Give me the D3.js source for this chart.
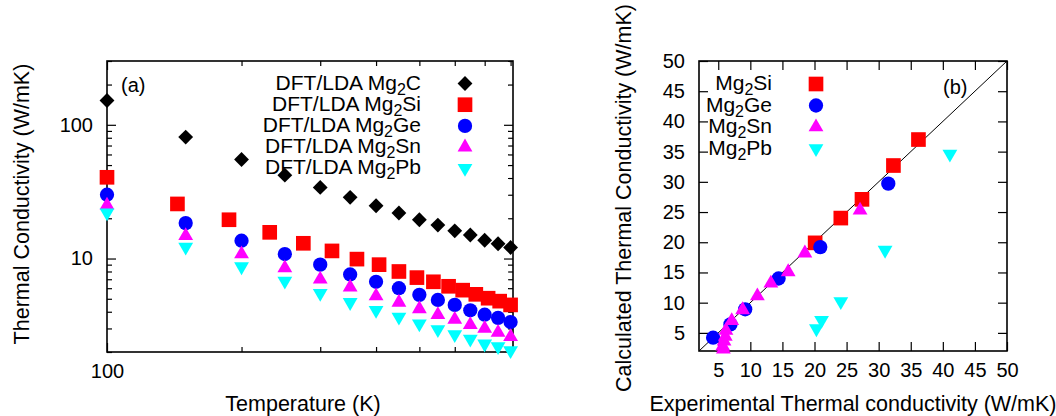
<!DOCTYPE html>
<html>
<head>
<meta charset="utf-8">
<script src="https://cdn.jsdelivr.net/npm/d3@7"></script>
<style>
  body { margin: 0; background: #fff; }
  text { font-family: "Liberation Sans", Arial, sans-serif; fill: #000; }
</style>
</head>
<body>
<div id="chart"></div>
<script>
var svgWidth = 1056;
var svgHeight = 416;

// panel (a): thermal conductivity vs temperature
var tempsA = [100, 150, 200, 250, 300, 350, 400, 450, 500, 550, 600, 650, 700, 750, 800];
var tempsSi = [100, 143.75, 187.5, 231.25, 275, 318.75, 362.5, 406.25, 450, 493.75, 537.5, 581.25, 625, 668.75, 712.5, 756.25, 800];
var kMg2C = [152, 81, 55, 42, 34, 28.7, 24.8, 21.9, 19.5, 17.8, 16.1, 15.0, 13.7, 12.9, 12.1];
var kMg2Si = [40.5, 25.6, 19.5, 15.7, 13.0, 11.4, 9.9, 9.0, 8.0, 7.2, 6.7, 6.2, 5.8, 5.4, 5.05, 4.8, 4.5];
var kMg2Ge = [30, 18.4, 13.6, 10.8, 9.0, 7.6, 6.7, 6.0, 5.35, 4.9, 4.5, 4.1, 3.8, 3.6, 3.35];
var kMg2Sn = [25, 14.8, 10.8, 8.5, 7.0, 6.1, 5.25, 4.7, 4.2, 3.8, 3.5, 3.2, 3.0, 2.8, 2.6];
var kMg2Pb = [22, 12.2, 8.7, 6.8, 5.5, 4.7, 4.1, 3.65, 3.25, 2.95, 2.7, 2.5, 2.3, 2.2, 2.05];

// panel (b): calculated vs experimental
var expSi = [20.1, 24.1, 27.4, 32.3, 36.2];
var calcSi = [19.9, 24.0, 27.1, 32.7, 37.0];
var expGe = [4.2, 6.9, 9.2, 14.4, 20.9, 31.5];
var calcGe = [4.2, 6.4, 8.9, 14.0, 19.2, 29.7];
var expSn = [5.8, 5.7, 5.9, 6.1, 6.2, 7.1, 8.8, 11.1, 13.2, 15.9, 18.5, 27.1];
var calcSn = [2.3, 2.8, 3.6, 4.4, 5.4, 7.0, 8.8, 11.1, 13.2, 15.1, 18.2, 25.3];
var expPb = [20.3, 21.1, 24.1, 31.0, 41.1];
var calcPb = [5.7, 7.1, 10.2, 18.7, 34.6];

var yTicksA = [10, 100];
var yMinorA = [2, 3, 4, 5, 6, 7, 8, 9, 20, 30, 40, 50, 60, 70, 80, 90, 200, 300];
var xTicksA = [100];
var xMinorA = [200, 300, 400, 500, 600, 700, 800];
var ticksB = [5, 10, 15, 20, 25, 30, 35, 40, 45, 50];

var svg = d3.select("#chart")
  .append("svg")
  .attr("width", svgWidth)
  .attr("height", svgHeight);

var plotA = { left: 107, right: 513, top: 61, bottom: 352 };
var plotB = { left: 699, right: 1007, top: 61, bottom: 351 };

var xA = d3.scaleLog().domain([100, 810]).range([plotA.left, plotA.right]);
var yA = d3.scaleLog().domain([2, 300]).range([plotA.bottom, plotA.top]);
var xB = d3.scaleLinear().domain([2, 50]).range([plotB.left, plotB.right]);
var yB = d3.scaleLinear().domain([2, 50]).range([plotB.bottom, plotB.top]);

var fmt = d3.format("d");

function drawTicks(p, x, y, xMajor, xMinor, yMajor, yMinor) {
  var g = svg.append("g");
  function add(axis, tr) {
    var a = g.append("g").attr("transform", tr).call(axis);
    a.select(".domain").remove();
    a.selectAll("line").attr("stroke", "#000").attr("stroke-width", 1.2);
    a.selectAll("text").style("font-size", "20px").attr("fill", "#000");
    return a;
  }
  // bottom / top
  add(d3.axisBottom(x).tickValues(xMajor).tickSize(-9).tickPadding(12).tickFormat(fmt), `translate(0,${p.bottom})`);
  add(d3.axisTop(x).tickValues(xMajor).tickSize(-9).tickFormat(""), `translate(0,${p.top})`);
  if (xMinor) {
    add(d3.axisBottom(x).tickValues(xMinor).tickSize(-5).tickFormat(""), `translate(0,${p.bottom})`);
    add(d3.axisTop(x).tickValues(xMinor).tickSize(-5).tickFormat(""), `translate(0,${p.top})`);
  }
  // left / right
  add(d3.axisLeft(y).tickValues(yMajor).tickSize(-9).tickPadding(14).tickFormat(fmt), `translate(${p.left},0)`);
  add(d3.axisRight(y).tickValues(yMajor).tickSize(-9).tickFormat(""), `translate(${p.right},0)`);
  if (yMinor) {
    add(d3.axisLeft(y).tickValues(yMinor).tickSize(-5).tickFormat(""), `translate(${p.left},0)`);
    add(d3.axisRight(y).tickValues(yMinor).tickSize(-5).tickFormat(""), `translate(${p.right},0)`);
  }
  // frame
  svg.append("rect")
    .attr("x", p.left).attr("y", p.top)
    .attr("width", p.right - p.left).attr("height", p.bottom - p.top)
    .attr("fill", "none").attr("stroke", "#000").attr("stroke-width", 1.6);
}

drawTicks(plotA, xA, yA, xTicksA, xMinorA, yTicksA, yMinorA);
drawTicks(plotB, xB, yB, ticksB, null, ticksB, null);

// y = x line in panel b
svg.append("line")
  .attr("x1", xB(2)).attr("y1", yB(2))
  .attr("x2", xB(50)).attr("y2", yB(50))
  .attr("stroke", "#000").attr("stroke-width", 1);

var markers = {
  diamond: { type: d3.symbolSquare, size: 110, rot: 45, color: "#000000" },
  square: { type: d3.symbolSquare, size: 215, rot: 0, color: "#ff0000" },
  circle: { type: d3.symbolCircle, size: 160, rot: 0, color: "#0000ff" },
  up: { type: d3.symbolTriangle, size: 95, rot: 0, color: "#ff00ff" },
  down: { type: d3.symbolTriangle, size: 95, rot: 180, color: "#00ffff" }
};

function drawPoints(xs, ys, xScale, yScale, m) {
  var mk = markers[m];
  var pts = xs.map((d, i) => ({ x: d, y: ys[i] }));
  svg.append("g").selectAll("path")
    .data(pts)
    .enter()
    .append("path")
    .attr("d", d3.symbol().type(mk.type).size(mk.size))
    .attr("transform", d => `translate(${xScale(d.x)},${yScale(d.y)}) rotate(${mk.rot})`)
    .attr("fill", mk.color);
}

drawPoints(tempsA, kMg2C, xA, yA, "diamond");
drawPoints(tempsSi, kMg2Si, xA, yA, "square");
drawPoints(tempsA, kMg2Ge, xA, yA, "circle");
drawPoints(tempsA, kMg2Sn, xA, yA, "up");
drawPoints(tempsA, kMg2Pb, xA, yA, "down");

drawPoints(expSi, calcSi, xB, yB, "square");
drawPoints(expGe, calcGe, xB, yB, "circle");
drawPoints(expSn, calcSn, xB, yB, "up");
drawPoints(expPb, calcPb, xB, yB, "down");

// legends
function subLabel(x, y, pre, sub, post) {
  var t = svg.append("text")
    .attr("x", x).attr("y", y)
    .attr("text-anchor", "end")
    .style("font-size", "21px");
  t.append("tspan").text(pre);
  t.append("tspan").attr("dy", 5).style("font-size", "16px").text(sub);
  t.append("tspan").attr("dy", -5).text(post);
}

function legendMark(x, y, m) {
  var mk = markers[m];
  svg.append("path")
    .attr("d", d3.symbol().type(mk.type).size(mk.size)())
    .attr("transform", `translate(${x},${y}) rotate(${mk.rot})`)
    .attr("fill", mk.color);
}

var legendA = [
  ["DFT/LDA Mg", "C", "diamond"],
  ["DFT/LDA Mg", "Si", "square"],
  ["DFT/LDA Mg", "Ge", "circle"],
  ["DFT/LDA Mg", "Sn", "up"],
  ["DFT/LDA Mg", "Pb", "down"]
];
legendA.forEach(function(d, i) {
  var cy = 83.5 + i * 21.2;
  subLabel(421, cy + 6, d[0], "2", d[1]);
  legendMark(465, cy, d[2]);
});

var legendB = [
  ["Mg", "Si", "square"],
  ["Mg", "Ge", "circle"],
  ["Mg", "Sn", "up"],
  ["Mg", "Pb", "down"]
];
legendB.forEach(function(d, i) {
  var cy = 84 + i * 21.5;
  subLabel(772, cy + 6, d[0], "2", d[1]);
  legendMark(816, cy, d[2]);
});

svg.append("text").attr("x", 121).attr("y", 92).style("font-size", "20px").text("(a)");
svg.append("text").attr("x", 943).attr("y", 94).style("font-size", "20px").text("(b)");

// axis titles
svg.append("text")
  .attr("x", 303).attr("y", 411)
  .attr("text-anchor", "middle")
  .style("font-size", "21.5px")
  .text("Temperature (K)");

svg.append("text")
  .attr("transform", "translate(29,204) rotate(-90)")
  .attr("text-anchor", "middle")
  .style("font-size", "21.5px")
  .text("Thermal Conductivity (W/mK)");

svg.append("text")
  .attr("x", 853).attr("y", 411)
  .attr("text-anchor", "middle")
  .style("font-size", "21.5px")
  .text("Experimental Thermal conductivity (W/mK)");

svg.append("text")
  .attr("transform", "translate(631,198) rotate(-90)")
  .attr("text-anchor", "middle")
  .style("font-size", "21.5px")
  .text("Calculated Thermal Conductivity (W/mK)");
</script>
</body>
</html>
